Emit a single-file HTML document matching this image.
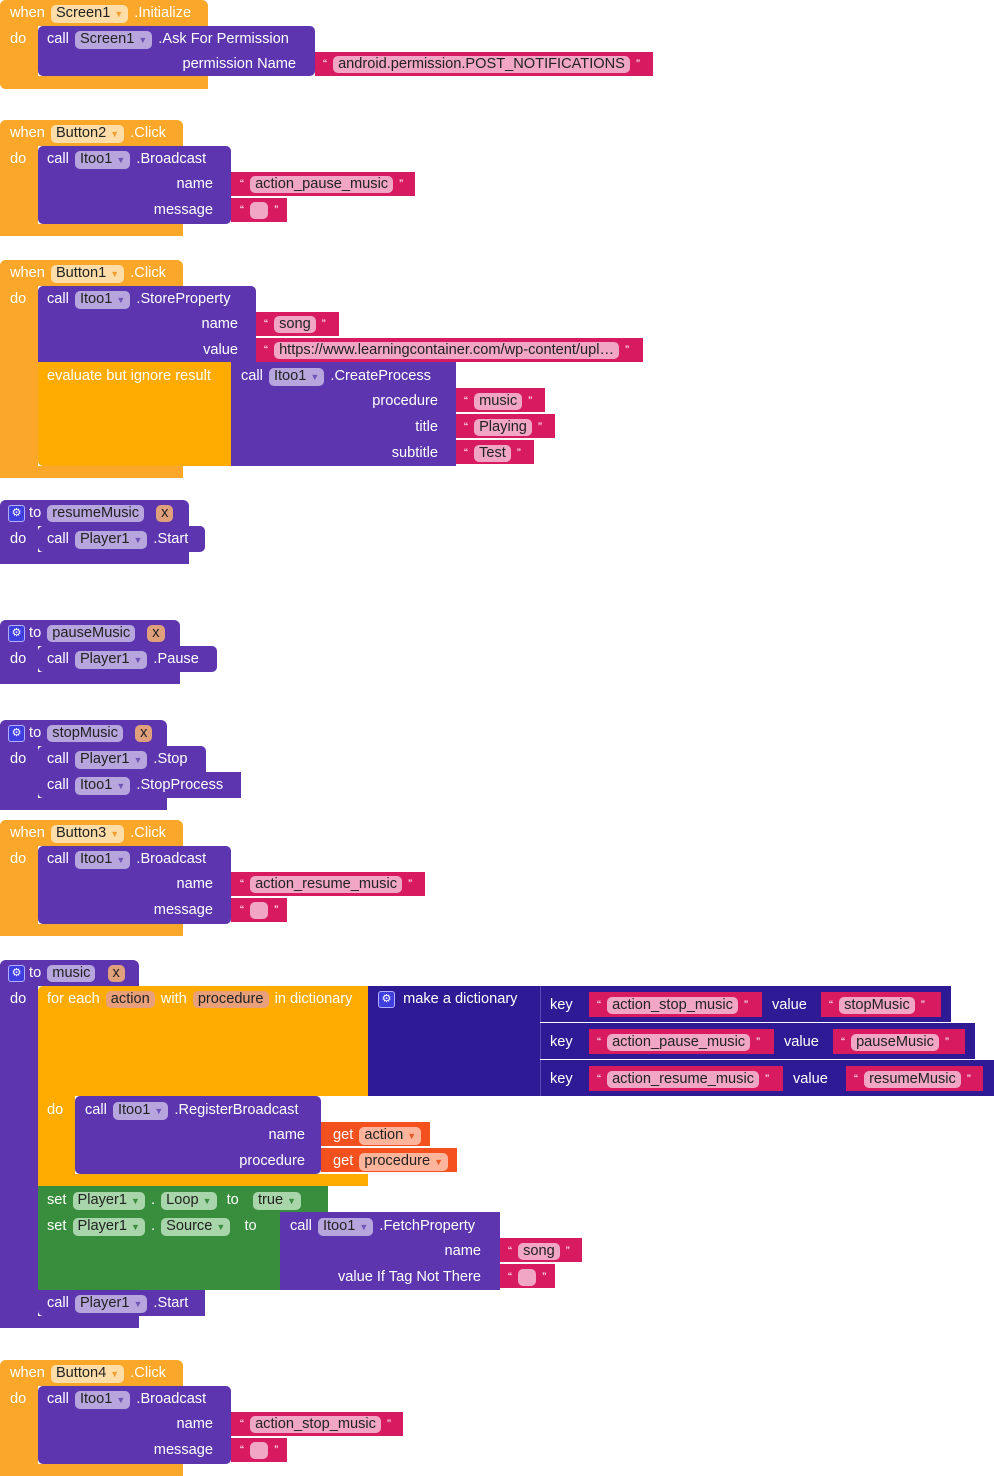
<!DOCTYPE html>
<html><head><meta charset="utf-8"><style>
*{margin:0;padding:0;box-sizing:border-box}
body{width:994px;height:1476px;background:#fff;position:relative;overflow:hidden;font-family:"Liberation Sans",Arial,sans-serif}
.r{position:absolute}
.o{background:#FBA729}.y{background:#FFAB00}.u{background:#5C35AF}.m{background:#D81B60}.d{background:#2E1A94}.g{background:#388E3C}.e{background:#F4511E}
.t{position:absolute;font-size:14.6px;line-height:20px;color:#fff;white-space:nowrap}
.p{font-style:normal;display:inline-block;border-radius:5px;padding:0 5px;color:#222;line-height:17px;margin:0 2px}
.po{background:#FEDDA9}.pu{background:#B7A6DE}.pm{background:#F0A6C4}.pg{background:#A8D5A9}.pe{background:#FFB59C}.px{background:#E0A07B}.pd{background:#E8A07A}
.a{font-size:9px;color:#6b57b8;margin-left:4px}.ag{color:#3a8d3e}.ae{color:#e75a2a}.ao{color:#f0a030}
.q{font-size:12px;vertical-align:top}
.ic{display:inline-block;width:17px;height:17px;background:#3f3fe0;border:1px solid #b0b0ff;border-radius:3px;color:#fff;font-size:11px;line-height:15px;text-align:center;vertical-align:middle}
.rt{text-align:right}
</style></head><body>

<!-- Block 1 -->
<div class="r o" style="left:0;top:0;width:208px;height:26px;border-radius:6px 6px 0 0"></div>
<div class="r o" style="left:0;top:0;width:38px;height:89px;border-radius:6px 0 0 6px"></div>
<div class="r o" style="left:0;top:76px;width:208px;height:13px;border-radius:0 0 0 6px"></div>
<div class="r u" style="left:38px;top:26px;width:277px;height:50px;border-radius:5px"></div>
<div class="r m" style="left:315px;top:52px;width:338px;height:24px"></div>
<div class="t" style="left:10px;top:3px">when <i class="p po">Screen1<span class="a ao">▼</span></i> .Initialize</div>
<div class="t" style="left:10px;top:29px">do</div>
<div class="t" style="left:47px;top:29px">call <i class="p pu">Screen1<span class="a">▼</span></i> .Ask For Permission</div>
<div class="t rt" style="left:100px;width:196px;top:54px">permission Name</div>
<div class="t" style="left:323px;top:54px"><span class="q">“</span> <i class="p pm">android.permission.POST_NOTIFICATIONS</i> <span class="q">”</span></div>

<!-- Block 2 Button2 -->
<div class="r o" style="left:0;top:120px;width:183px;height:26px;border-radius:6px 6px 0 0"></div>
<div class="r o" style="left:0;top:120px;width:38px;height:116px;border-radius:6px 0 0 6px"></div>
<div class="r o" style="left:0;top:224px;width:183px;height:12px"></div>
<div class="r u" style="left:38px;top:146px;width:193px;height:78px;border-radius:5px"></div>
<div class="r m" style="left:231px;top:172px;width:184px;height:24px"></div>
<div class="r m" style="left:231px;top:198px;width:56px;height:24px"></div>
<div class="t" style="left:10px;top:123px">when <i class="p po">Button2<span class="a ao">▼</span></i> .Click</div>
<div class="t" style="left:10px;top:149px">do</div>
<div class="t" style="left:47px;top:149px">call <i class="p pu">Itoo1<span class="a">▼</span></i> .Broadcast</div>
<div class="t rt" style="left:100px;width:113px;top:174px">name</div>
<div class="t rt" style="left:100px;width:113px;top:200px">message</div>
<div class="t" style="left:240px;top:174px"><span class="q">“</span> <i class="p pm">action_pause_music</i> <span class="q">”</span></div>
<div class="t" style="left:240px;top:200px"><span class="q">“</span> <i class="p pm">&nbsp;&nbsp;</i> <span class="q">”</span></div>

<!-- Block 3 Button1 -->
<div class="r o" style="left:0;top:260px;width:183px;height:26px;border-radius:6px 6px 0 0"></div>
<div class="r o" style="left:0;top:260px;width:38px;height:218px;border-radius:6px 0 0 6px"></div>
<div class="r o" style="left:0;top:466px;width:183px;height:12px"></div>
<div class="r u" style="left:38px;top:286px;width:218px;height:76px;border-radius:5px 5px 0 0"></div>
<div class="r m" style="left:256px;top:312px;width:83px;height:24px"></div>
<div class="r m" style="left:256px;top:338px;width:387px;height:24px"></div>
<div class="r y" style="left:38px;top:362px;width:193px;height:104px;border-radius:0 0 0 5px"></div>
<div class="r u" style="left:231px;top:362px;width:225px;height:104px"></div>
<div class="r m" style="left:456px;top:388px;width:89px;height:24px"></div>
<div class="r m" style="left:456px;top:414px;width:99px;height:24px"></div>
<div class="r m" style="left:456px;top:440px;width:78px;height:24px"></div>
<div class="t" style="left:10px;top:263px">when <i class="p po">Button1<span class="a ao">▼</span></i> .Click</div>
<div class="t" style="left:10px;top:289px">do</div>
<div class="t" style="left:47px;top:289px">call <i class="p pu">Itoo1<span class="a">▼</span></i> .StoreProperty</div>
<div class="t rt" style="left:100px;width:138px;top:314px">name</div>
<div class="t rt" style="left:100px;width:138px;top:340px">value</div>
<div class="t" style="left:264px;top:314px"><span class="q">“</span> <i class="p pm">song</i> <span class="q">”</span></div>
<div class="t" style="left:264px;top:340px"><span class="q">“</span> <i class="p pm">https://www.learningcontainer.com/wp-content/upl…</i> <span class="q">”</span></div>
<div class="t" style="left:47px;top:366px">evaluate but ignore result</div>
<div class="t" style="left:241px;top:366px">call <i class="p pu">Itoo1<span class="a">▼</span></i> .CreateProcess</div>
<div class="t rt" style="left:300px;width:138px;top:391px">procedure</div>
<div class="t rt" style="left:300px;width:138px;top:417px">title</div>
<div class="t rt" style="left:300px;width:138px;top:443px">subtitle</div>
<div class="t" style="left:464px;top:391px"><span class="q">“</span> <i class="p pm">music</i> <span class="q">”</span></div>
<div class="t" style="left:464px;top:417px"><span class="q">“</span> <i class="p pm">Playing</i> <span class="q">”</span></div>
<div class="t" style="left:464px;top:443px"><span class="q">“</span> <i class="p pm">Test</i> <span class="q">”</span></div>

<!-- Block 4 resumeMusic -->
<div class="r u" style="left:0;top:500px;width:189px;height:26px;border-radius:6px 6px 0 0"></div>
<div class="r u" style="left:0;top:500px;width:38px;height:64px;border-radius:6px 0 0 6px"></div>
<div class="r u" style="left:0;top:552px;width:189px;height:12px"></div>
<div class="r u" style="left:38px;top:526px;width:167px;height:26px;border-radius:5px"></div>
<div class="t" style="left:8px;top:503px"><span class="ic">⚙</span> to <i class="p pu">resumeMusic</i> &nbsp;<i class="p px">x</i></div>
<div class="t" style="left:10px;top:529px">do</div>
<div class="t" style="left:47px;top:529px">call <i class="p pu">Player1<span class="a">▼</span></i> .Start</div>

<!-- Block 5 pauseMusic -->
<div class="r u" style="left:0;top:620px;width:180px;height:26px;border-radius:6px 6px 0 0"></div>
<div class="r u" style="left:0;top:620px;width:38px;height:64px;border-radius:6px 0 0 6px"></div>
<div class="r u" style="left:0;top:672px;width:180px;height:12px"></div>
<div class="r u" style="left:38px;top:646px;width:179px;height:26px;border-radius:5px"></div>
<div class="t" style="left:8px;top:623px"><span class="ic">⚙</span> to <i class="p pu">pauseMusic</i> &nbsp;<i class="p px">x</i></div>
<div class="t" style="left:10px;top:649px">do</div>
<div class="t" style="left:47px;top:649px">call <i class="p pu">Player1<span class="a">▼</span></i> .Pause</div>

<!-- Block 6 stopMusic -->
<div class="r u" style="left:0;top:720px;width:167px;height:26px;border-radius:6px 6px 0 0"></div>
<div class="r u" style="left:0;top:720px;width:38px;height:90px;border-radius:6px 0 0 6px"></div>
<div class="r u" style="left:0;top:798px;width:167px;height:12px"></div>
<div class="r u" style="left:38px;top:746px;width:168px;height:26px;border-radius:5px 5px 0 0"></div>
<div class="r u" style="left:38px;top:772px;width:203px;height:26px;border-radius:0 0 0 5px"></div>
<div class="t" style="left:8px;top:723px"><span class="ic">⚙</span> to <i class="p pu">stopMusic</i> &nbsp;<i class="p px">x</i></div>
<div class="t" style="left:10px;top:749px">do</div>
<div class="t" style="left:47px;top:749px">call <i class="p pu">Player1<span class="a">▼</span></i> .Stop</div>
<div class="t" style="left:47px;top:775px">call <i class="p pu">Itoo1<span class="a">▼</span></i> .StopProcess</div>

<!-- Block 7 Button3 -->
<div class="r o" style="left:0;top:820px;width:183px;height:26px;border-radius:6px 6px 0 0"></div>
<div class="r o" style="left:0;top:820px;width:38px;height:116px;border-radius:6px 0 0 6px"></div>
<div class="r o" style="left:0;top:924px;width:183px;height:12px"></div>
<div class="r u" style="left:38px;top:846px;width:193px;height:78px;border-radius:5px"></div>
<div class="r m" style="left:231px;top:872px;width:194px;height:24px"></div>
<div class="r m" style="left:231px;top:898px;width:56px;height:24px"></div>
<div class="t" style="left:10px;top:823px">when <i class="p po">Button3<span class="a ao">▼</span></i> .Click</div>
<div class="t" style="left:10px;top:849px">do</div>
<div class="t" style="left:47px;top:849px">call <i class="p pu">Itoo1<span class="a">▼</span></i> .Broadcast</div>
<div class="t rt" style="left:100px;width:113px;top:874px">name</div>
<div class="t rt" style="left:100px;width:113px;top:900px">message</div>
<div class="t" style="left:240px;top:874px"><span class="q">“</span> <i class="p pm">action_resume_music</i> <span class="q">”</span></div>
<div class="t" style="left:240px;top:900px"><span class="q">“</span> <i class="p pm">&nbsp;&nbsp;</i> <span class="q">”</span></div>

<!-- Block 8 music -->
<div class="r u" style="left:0;top:960px;width:139px;height:26px;border-radius:6px 6px 0 0"></div>
<div class="r u" style="left:0;top:960px;width:38px;height:368px;border-radius:6px 0 0 6px"></div>
<div class="r u" style="left:0;top:1316px;width:139px;height:12px"></div>
<div class="r y" style="left:38px;top:986px;width:330px;height:110px;border-radius:5px 0 0 0"></div>
<div class="r y" style="left:38px;top:1096px;width:37px;height:90px"></div>
<div class="r y" style="left:38px;top:1174px;width:330px;height:12px"></div>
<div class="r d" style="left:368px;top:986px;width:172px;height:110px"></div>
<div class="r d" style="left:540px;top:986px;width:411px;height:36px;border-left:1px solid #5a4ab8"></div>
<div class="r d" style="left:540px;top:1023px;width:435px;height:36px;border-left:1px solid #5a4ab8"></div>
<div class="r d" style="left:540px;top:1060px;width:454px;height:36px;border-left:1px solid #5a4ab8"></div>
<div class="r m" style="left:589px;top:992px;width:173px;height:25px"></div>
<div class="r m" style="left:821px;top:992px;width:120px;height:25px"></div>
<div class="r m" style="left:589px;top:1029px;width:185px;height:25px"></div>
<div class="r m" style="left:833px;top:1029px;width:132px;height:25px"></div>
<div class="r m" style="left:589px;top:1066px;width:194px;height:25px"></div>
<div class="r m" style="left:846px;top:1066px;width:137px;height:25px"></div>
<div class="r u" style="left:75px;top:1096px;width:246px;height:78px;border-radius:5px"></div>
<div class="r e" style="left:321px;top:1122px;width:109px;height:24px"></div>
<div class="r e" style="left:321px;top:1148px;width:136px;height:24px"></div>
<div class="r g" style="left:38px;top:1186px;width:290px;height:26px"></div>
<div class="r g" style="left:38px;top:1212px;width:242px;height:78px"></div>
<div class="r u" style="left:280px;top:1212px;width:220px;height:78px"></div>
<div class="r m" style="left:500px;top:1238px;width:82px;height:24px"></div>
<div class="r m" style="left:500px;top:1264px;width:55px;height:24px"></div>
<div class="r u" style="left:38px;top:1290px;width:167px;height:26px;border-radius:0 0 0 5px"></div>
<div class="t" style="left:8px;top:963px"><span class="ic">⚙</span> to <i class="p pu">music</i> &nbsp;<i class="p px">x</i></div>
<div class="t" style="left:10px;top:989px">do</div>
<div class="t" style="left:47px;top:989px">for each <i class="p pd">action</i> with <i class="p pd">procedure</i> in dictionary</div>
<div class="t" style="left:378px;top:989px"><span class="ic">⚙</span>&nbsp; make a dictionary</div>
<div class="t" style="left:550px;top:995px">key</div>
<div class="t" style="left:550px;top:1032px">key</div>
<div class="t" style="left:550px;top:1069px">key</div>
<div class="t" style="left:597px;top:995px"><span class="q">“</span> <i class="p pm">action_stop_music</i> <span class="q">”</span></div>
<div class="t" style="left:772px;top:995px">value</div>
<div class="t" style="left:829px;top:995px"><span class="q">“</span> <i class="p pm">stopMusic</i> <span class="q">”</span></div>
<div class="t" style="left:597px;top:1032px"><span class="q">“</span> <i class="p pm">action_pause_music</i> <span class="q">”</span></div>
<div class="t" style="left:784px;top:1032px">value</div>
<div class="t" style="left:841px;top:1032px"><span class="q">“</span> <i class="p pm">pauseMusic</i> <span class="q">”</span></div>
<div class="t" style="left:597px;top:1069px"><span class="q">“</span> <i class="p pm">action_resume_music</i> <span class="q">”</span></div>
<div class="t" style="left:793px;top:1069px">value</div>
<div class="t" style="left:854px;top:1069px"><span class="q">“</span> <i class="p pm">resumeMusic</i> <span class="q">”</span></div>
<div class="t" style="left:47px;top:1100px">do</div>
<div class="t" style="left:85px;top:1100px">call <i class="p pu">Itoo1<span class="a">▼</span></i> .RegisterBroadcast</div>
<div class="t rt" style="left:150px;width:155px;top:1125px">name</div>
<div class="t rt" style="left:150px;width:155px;top:1151px">procedure</div>
<div class="t" style="left:333px;top:1125px">get <i class="p pe">action<span class="a ae">▼</span></i></div>
<div class="t" style="left:333px;top:1151px">get <i class="p pe">procedure<span class="a ae">▼</span></i></div>
<div class="t" style="left:47px;top:1190px">set <i class="p pg">Player1<span class="a ag">▼</span></i> . <i class="p pg">Loop<span class="a ag">▼</span></i> &nbsp;to &nbsp;&nbsp;<i class="p pg">true<span class="a ag">▼</span></i></div>
<div class="t" style="left:47px;top:1216px">set <i class="p pg">Player1<span class="a ag">▼</span></i> . <i class="p pg">Source<span class="a ag">▼</span></i> &nbsp;&nbsp;to</div>
<div class="t" style="left:290px;top:1216px">call <i class="p pu">Itoo1<span class="a">▼</span></i> .FetchProperty</div>
<div class="t rt" style="left:300px;width:181px;top:1241px">name</div>
<div class="t rt" style="left:300px;width:181px;top:1267px">value If Tag Not There</div>
<div class="t" style="left:508px;top:1241px"><span class="q">“</span> <i class="p pm">song</i> <span class="q">”</span></div>
<div class="t" style="left:508px;top:1267px"><span class="q">“</span> <i class="p pm">&nbsp;&nbsp;</i> <span class="q">”</span></div>
<div class="t" style="left:47px;top:1293px">call <i class="p pu">Player1<span class="a">▼</span></i> .Start</div>

<!-- Block 9 Button4 -->
<div class="r o" style="left:0;top:1360px;width:183px;height:26px;border-radius:6px 6px 0 0"></div>
<div class="r o" style="left:0;top:1360px;width:38px;height:116px;border-radius:6px 0 0 6px"></div>
<div class="r o" style="left:0;top:1464px;width:183px;height:12px"></div>
<div class="r u" style="left:38px;top:1386px;width:193px;height:78px;border-radius:5px"></div>
<div class="r m" style="left:231px;top:1412px;width:172px;height:24px"></div>
<div class="r m" style="left:231px;top:1438px;width:56px;height:24px"></div>
<div class="t" style="left:10px;top:1363px">when <i class="p po">Button4<span class="a ao">▼</span></i> .Click</div>
<div class="t" style="left:10px;top:1389px">do</div>
<div class="t" style="left:47px;top:1389px">call <i class="p pu">Itoo1<span class="a">▼</span></i> .Broadcast</div>
<div class="t rt" style="left:100px;width:113px;top:1414px">name</div>
<div class="t rt" style="left:100px;width:113px;top:1440px">message</div>
<div class="t" style="left:240px;top:1414px"><span class="q">“</span> <i class="p pm">action_stop_music</i> <span class="q">”</span></div>
<div class="t" style="left:240px;top:1440px"><span class="q">“</span> <i class="p pm">&nbsp;&nbsp;</i> <span class="q">”</span></div>

</body></html>
